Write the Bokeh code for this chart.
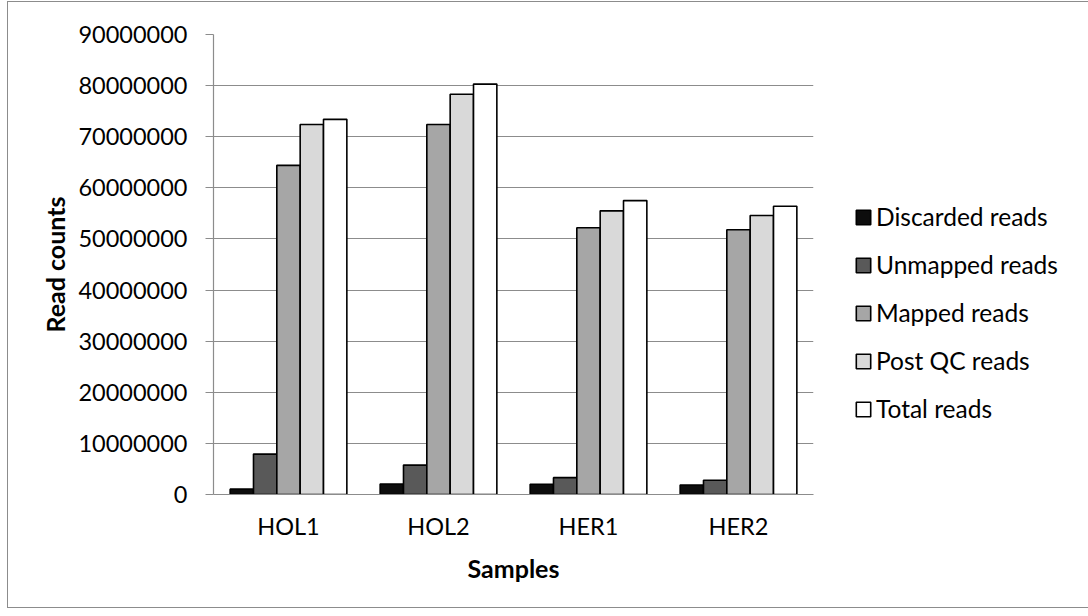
from bokeh.plotting import figure
from bokeh.models import (FactorRange, Range1d, Legend, LegendItem,
                          NumeralTickFormatter, SingleIntervalTicker, ColumnDataSource)
from bokeh.transform import dodge
from bokeh.embed import file_html
from bokeh.resources import INLINE

# Read counts per sample
samples = ["HOL1", "HOL2", "HER1", "HER2"]
discarded = [1.05e6, 2.05e6, 2.0e6, 1.85e6]
unmapped = [7.9e6, 5.75e6, 3.3e6, 2.8e6]
mapped = [64.4e6, 72.4e6, 52.2e6, 51.8e6]
post_qc = [72.4e6, 78.3e6, 55.5e6, 54.6e6]
total = [73.4e6, 80.3e6, 57.5e6, 56.4e6]

series_names = ["Discarded reads", "Unmapped reads", "Mapped reads", "Post QC reads", "Total reads"]
series_keys = ["discarded", "unmapped", "mapped", "post_qc", "total"]
series_colors = ["#0d0d0d", "#595959", "#a6a6a6", "#d9d9d9", "#ffffff"]

source = ColumnDataSource(dict(samples=samples, discarded=discarded, unmapped=unmapped,
                               mapped=mapped, post_qc=post_qc, total=total))

FONT = "Lato"

p = figure(x_range=FactorRange(*samples, range_padding=0), y_range=Range1d(0, 90e6),
           width=1074, height=605, frame_width=600, frame_height=460,
           min_border_left=205, min_border_top=32, min_border_right=269, min_border_bottom=113,
           output_backend="svg", toolbar_location=None)
p.margin = (1, 0, 0, 7)
p.styles = {"border": "1px solid #8c8c8c"}

bar_w = 0.1556
items = []
for i, (key, name, color) in enumerate(zip(series_keys, series_names, series_colors)):
    r = p.vbar(x=dodge("samples", (i - 2) * bar_w, range=p.x_range), top=key, width=bar_w,
               source=source, fill_color=color, line_color="black", line_width=1.6)
    items.append(LegendItem(label=name, renderers=[r]))

# grid and axes
p.outline_line_color = None
p.xgrid.grid_line_color = None
p.ygrid.grid_line_color = "#8c8c8c"
p.ygrid.grid_line_width = 1.2
p.yaxis.ticker = SingleIntervalTicker(interval=10e6)
p.yaxis.formatter = NumeralTickFormatter(format="0")
p.yaxis.axis_line_color = "#8c8c8c"
p.yaxis.axis_line_width = 1.2
p.yaxis.major_tick_line_color = "#8c8c8c"
p.yaxis.major_tick_out = 8
p.yaxis.major_tick_in = 0
p.yaxis.minor_tick_line_color = None
p.yaxis.major_label_standoff = 18
p.yaxis.axis_label = "Read counts"
p.yaxis.axis_label_standoff = 5

p.xaxis.axis_line_color = "#8c8c8c"
p.xaxis.axis_line_width = 1.2
p.xaxis.major_tick_line_color = None
p.xaxis.major_label_standoff = 11
p.xaxis.axis_label = "Samples"
p.xaxis.axis_label_standoff = 10

for ax in (p.xaxis, p.yaxis):
    ax.major_label_text_font = FONT
    ax.major_label_text_font_size = "23.5px"
    ax.major_label_text_color = "black"
    ax.axis_label_text_font = FONT
    ax.axis_label_text_font_size = "25px"
    ax.axis_label_text_font_style = "bold"
    ax.axis_label_text_color = "black"

legend = Legend(items=items, location=(41, 71), orientation="vertical",
                glyph_width=18, glyph_height=18, label_standoff=4, spacing=19,
                padding=0, margin=0, border_line_color=None, background_fill_alpha=0,
                label_text_font=FONT, label_text_font_size="24.5px", label_text_color="black")
p.add_layout(legend, "right")

open("out.html", "w").write(file_html(p, INLINE))
